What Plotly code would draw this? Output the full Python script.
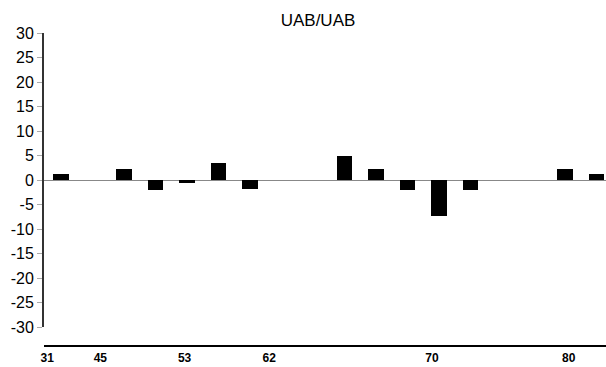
import plotly.graph_objects as go

# Data
slots = list(range(18))
values = [1.2, None, 2.2, -2.0, -0.7, 3.4, -1.8, None, None,
          4.9, 2.2, -2.0, -7.4, -2.0, None, None, 2.2, 1.2]
tick_vals = [-0.44, 1.24, 3.9, 6.57, 11.71, 16.03]
tick_labels = ["31", "45", "53", "62", "70", "80"]
y_ticks = list(range(-30, 31, 5))
y_tick_labels = [str(v) for v in y_ticks]

FONT = "Liberation Sans, Arial, sans-serif"

fig = go.Figure()
fig.add_trace(go.Bar(
    x=slots, y=values, width=0.5,
    marker=dict(color="black", line=dict(width=0)),
    xaxis="x", yaxis="y", showlegend=False,
))
# invisible trace to activate the secondary x axis
fig.add_trace(go.Scatter(x=[tick_vals[0]], y=[None], xaxis="x2", yaxis="y",
                         mode="markers", showlegend=False, hoverinfo="skip"))

fig.update_layout(
    width=606, height=367,
    margin=dict(l=44, r=0, t=33, b=21, autoexpand=False),
    plot_bgcolor="white", paper_bgcolor="white",
    font=dict(family=FONT, color="black"),
    bargap=0,
    title=dict(text="UAB/UAB", x=318/606, xref="container", xanchor="center",
               y=1-20/367, yref="container", yanchor="middle",
               font=dict(size=17, family=FONT, color="black")),
    xaxis=dict(range=[-0.54, 17.3], visible=False, showgrid=False,
               zeroline=False, domain=[0, 1]),
    xaxis2=dict(range=[-0.54, 17.206], domain=[0, 0.9947], anchor="free",
                position=0, overlaying="x", showline=True, linecolor="black",
                linewidth=2, showgrid=False, zeroline=False, ticks="",
                ticklabelstandoff=1,
                tickmode="array", tickvals=tick_vals, ticktext=tick_labels,
                tickfont=dict(size=12, family=FONT, color="black",
                              weight="bold")),
    yaxis=dict(range=[-30, 30], domain=[0.0607, 1], tickmode="array",
               tickvals=y_ticks, ticktext=y_tick_labels,
               showline=True, linecolor="#333333",
               linewidth=2, ticks="outside", ticklen=5, tickcolor="#aaaaaa",
               tickwidth=1, showgrid=False, zeroline=True,
               zerolinecolor="#888888", zerolinewidth=1,
               tickfont=dict(size=16, family=FONT, color="black")),
)

fig.write_html("out.html",
               config={"displayModeBar": False},
               post_script="document.body.style.margin='0';"
                           "document.body.style.overflow='hidden';")
